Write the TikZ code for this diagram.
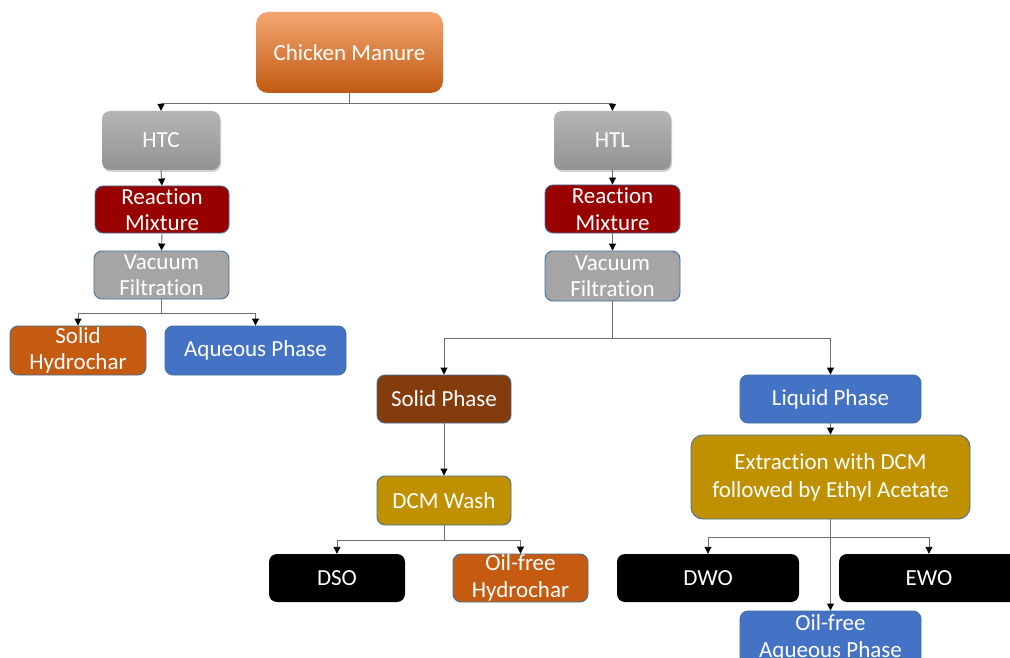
\documentclass[tikz,border=0pt]{standalone}
\usepackage{fontspec}
\setmainfont[Ligatures=NoCommon]{Carlito}
\usetikzlibrary{arrows.meta,shadows}
\definecolor{cmTop}{HTML}{F4A672}
\definecolor{cmBot}{HTML}{C05A11}
\definecolor{grTop}{HTML}{B5B5B5}
\definecolor{grBot}{HTML}{939393}
\definecolor{darkred}{HTML}{990000}
\definecolor{vfgray}{HTML}{A5A5A5}
\definecolor{edgeblue}{HTML}{41719C}
\definecolor{orng}{HTML}{C55A11}
\definecolor{blu}{HTML}{4472C4}
\definecolor{brwn}{HTML}{843C0C}
\definecolor{gold}{HTML}{BF9000}
\definecolor{linegray}{HTML}{6E6E6E}
\tikzset{
  box/.style={rounded corners=8pt, text=white, align=center, inner sep=0pt,
    font=\fontsize{23}{26.5}\selectfont},
  bbox/.style={box, draw=edgeblue, line width=0.9pt},
  conn/.style={draw=linegray, line width=0.9pt, -{Triangle[width=7pt,length=7pt,color=black]}},
}
\begin{document}
\begin{tikzpicture}[x=1pt,y=-1pt]
\useasboundingbox (0,0) rectangle (1010,658);
\clip (0,0) rectangle (1010,658);
\fill[white] (0,0) rectangle (1010,658);
% top
\node[box, top color=cmTop, bottom color=cmBot, minimum width=187pt, minimum height=81pt, rounded corners=12pt] (cm) at (349.5,52.5) {Chicken Manure};
\node[box, top color=grTop, bottom color=grBot, minimum width=118pt, minimum height=59pt, drop shadow={opacity=0.35, shadow xshift=1pt, shadow yshift=-2pt}] (htc) at (161,140.5) {HTC};
\node[box, top color=grTop, bottom color=grBot, minimum width=117pt, minimum height=59pt, drop shadow={opacity=0.35, shadow xshift=1pt, shadow yshift=-2pt}] (htl) at (612.5,140.5) {HTL};
% left branch
\node[bbox, fill=darkred, minimum width=134pt, minimum height=47pt] (rma) at (162,209.5) {Reaction\\Mixture};
\node[bbox, fill=vfgray, minimum width=135pt, minimum height=48pt] (vfa) at (161.5,275) {Vacuum\\Filtration};
\node[bbox, fill=orng, minimum width=136pt, minimum height=49pt] (sh) at (78,350.5) {Solid\\Hydrochar};
\node[bbox, fill=blu, minimum width=181pt, minimum height=49pt] (aq) at (255.5,350.5) {Aqueous Phase};
% right branch
\node[bbox, fill=darkred, minimum width=135pt, minimum height=48pt] (rmb) at (612.5,209) {Reaction\\Mixture};
\node[bbox, fill=vfgray, minimum width=135pt, minimum height=50pt] (vfb) at (612.5,276) {Vacuum\\Filtration};
\node[bbox, fill=brwn, minimum width=134pt, minimum height=48pt] (sp) at (444,399) {Solid Phase};
\node[bbox, fill=blu, minimum width=181pt, minimum height=48pt] (lp) at (830.5,399) {Liquid Phase};
\node[bbox, fill=gold, minimum width=134pt, minimum height=49pt] (dcm) at (444,500.5) {DCM Wash};
\node[bbox, fill=gold, minimum width=279pt, minimum height=84pt, rounded corners=12pt, font=\fontsize{23}{28}\selectfont] (ext) at (830.5,477) {Extraction with DCM\\followed by Ethyl Acetate};
\node[box, fill=black, minimum width=136pt, minimum height=48pt] (dso) at (337,578) {DSO};
\node[bbox, fill=orng, minimum width=135pt, minimum height=48pt] (ofh) at (520.5,578) {Oil-free\\Hydrochar};
\node[box, fill=black, minimum width=182pt, minimum height=48pt] (dwo) at (708,578) {DWO};
\node[box, fill=black, minimum width=180pt, minimum height=48pt] (ewo) at (929,578) {EWO};
\node[bbox, fill=blu, minimum width=181pt, minimum height=54pt] (ofa) at (830.5,638) {Oil-free\\Aqueous Phase};
% connectors
\draw[conn] (cm.south) -- ++(0,10) -| (htc.north);
\draw[conn] (cm.south) -- ++(0,10) -| (htl.north);
\draw[conn] (htc.south) -- (rma.north);
\draw[conn] (rma.south) -- (vfa.north);
\draw[conn] (vfa.south) -- ++(0,14) -| (sh.north);
\draw[conn] (vfa.south) -- ++(0,14) -| (aq.north);
\draw[conn] (htl.south) -- (rmb.north);
\draw[conn] (rmb.south) -- (vfb.north);
\draw[conn] (vfb.south) -- ++(0,37) -| (sp.north);
\draw[conn] (vfb.south) -- ++(0,37) -| (lp.north);
\draw[conn] (sp.south) -- (dcm.north);
\draw[conn] (dcm.south) -- ++(0,15) -| (dso.north);
\draw[conn] (dcm.south) -- ++(0,15) -| (ofh.north);
\draw[conn] (lp.south) -- (ext.north);
\draw[conn] (ext.south) -- ++(0,18) -| (dwo.north);
\draw[conn] (ext.south) -- ++(0,18) -| (ewo.north);
\draw[conn] (ext.south) -- (ofa.north);
\end{tikzpicture}
\end{document}
